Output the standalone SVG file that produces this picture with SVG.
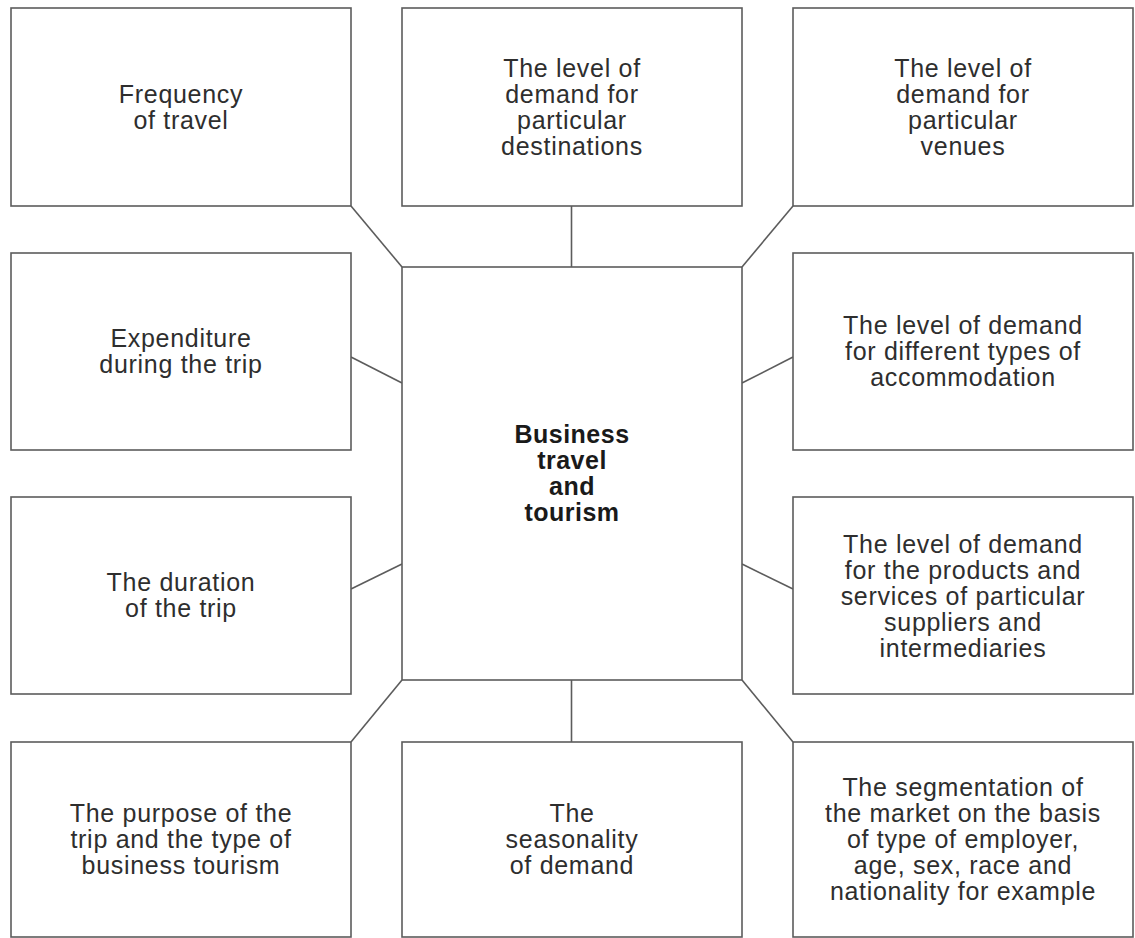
<svg xmlns="http://www.w3.org/2000/svg" width="1135" height="938" viewBox="0 0 1135 938">
  <style>
    .box { fill: #ffffff; stroke: #5c5c5c; stroke-width: 1.6; }
    .link { stroke: #5c5c5c; stroke-width: 1.6; fill: none; }
    text { font-family: "Liberation Sans", Arial, sans-serif; font-size: 25px; fill: #2e2e2e; text-anchor: middle; letter-spacing: 0.7px; }
    .hub { font-weight: bold; fill: #1a1a1a; letter-spacing: 0.5px; }
  </style>
  <rect width="1135" height="938" fill="#ffffff"/>

  <!-- connectors between the hub and the surrounding boxes -->
  <g id="connectors">
    <line class="link" x1="351" y1="206" x2="402" y2="267"/>
    <line class="link" x1="571.5" y1="206" x2="571.5" y2="267"/>
    <line class="link" x1="793" y1="206" x2="742" y2="267"/>
    <line class="link" x1="351" y1="357" x2="402" y2="383"/>
    <line class="link" x1="793" y1="357" x2="742" y2="383"/>
    <line class="link" x1="351" y1="589" x2="402" y2="564"/>
    <line class="link" x1="793" y1="589" x2="742" y2="564"/>
    <line class="link" x1="402" y1="680" x2="351" y2="742"/>
    <line class="link" x1="571.5" y1="680" x2="571.5" y2="742"/>
    <line class="link" x1="742" y1="680" x2="793" y2="742"/>
  </g>

  <!-- central hub -->
  <g id="hub">
    <rect class="box" x="402" y="267" width="340" height="413"/>
    <text class="hub" x="572" y="443">Business</text>
    <text class="hub" x="572" y="469">travel</text>
    <text class="hub" x="572" y="495">and</text>
    <text class="hub" x="572" y="521">tourism</text>
  </g>

  <g id="frequency">
    <rect class="box" x="11" y="8" width="340" height="198"/>
    <text x="181" y="103">Frequency</text>
    <text x="181" y="129">of travel</text>
  </g>

  <g id="destinations">
    <rect class="box" x="402" y="8" width="340" height="198"/>
    <text x="572" y="77">The level of</text>
    <text x="572" y="103">demand for</text>
    <text x="572" y="129">particular</text>
    <text x="572" y="155">destinations</text>
  </g>

  <g id="venues">
    <rect class="box" x="793" y="8" width="340" height="198"/>
    <text x="963" y="77">The level of</text>
    <text x="963" y="103">demand for</text>
    <text x="963" y="129">particular</text>
    <text x="963" y="155">venues</text>
  </g>

  <g id="expenditure">
    <rect class="box" x="11" y="253" width="340" height="197"/>
    <text x="181" y="347">Expenditure</text>
    <text x="181" y="373">during the trip</text>
  </g>

  <g id="accommodation">
    <rect class="box" x="793" y="253" width="340" height="197"/>
    <text x="963" y="334">The level of demand</text>
    <text x="963" y="360">for different types of</text>
    <text x="963" y="386">accommodation</text>
  </g>

  <g id="duration">
    <rect class="box" x="11" y="497" width="340" height="197"/>
    <text x="181" y="591">The duration</text>
    <text x="181" y="617">of the trip</text>
  </g>

  <g id="suppliers">
    <rect class="box" x="793" y="497" width="340" height="197"/>
    <text x="963" y="553">The level of demand</text>
    <text x="963" y="579">for the products and</text>
    <text x="963" y="605">services of particular</text>
    <text x="963" y="631">suppliers and</text>
    <text x="963" y="657">intermediaries</text>
  </g>

  <g id="purpose">
    <rect class="box" x="11" y="742" width="340" height="195"/>
    <text x="181" y="822">The purpose of the</text>
    <text x="181" y="848">trip and the type of</text>
    <text x="181" y="874">business tourism</text>
  </g>

  <g id="seasonality">
    <rect class="box" x="402" y="742" width="340" height="195"/>
    <text x="572" y="822">The</text>
    <text x="572" y="848">seasonality</text>
    <text x="572" y="874">of demand</text>
  </g>

  <g id="segmentation">
    <rect class="box" x="793" y="742" width="340" height="195"/>
    <text x="963" y="796">The segmentation of</text>
    <text x="963" y="822">the market on the basis</text>
    <text x="963" y="848">of type of employer,</text>
    <text x="963" y="874">age, sex, race and</text>
    <text x="963" y="900">nationality for example</text>
  </g>
</svg>
